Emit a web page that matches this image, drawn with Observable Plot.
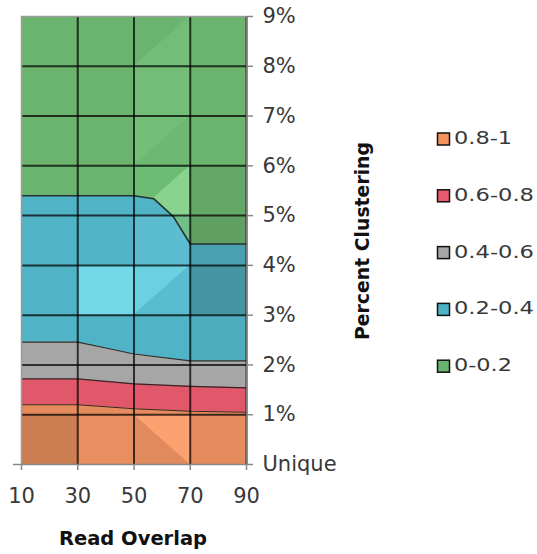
<!DOCTYPE html>
<html><head><meta charset="utf-8">
<script src="https://cdn.jsdelivr.net/npm/d3@7"></script>
<script src="https://cdn.jsdelivr.net/npm/@observablehq/plot@0.6"></script>
<style>html,body{margin:0;padding:0;background:#fff;} #chart{width:537px;height:554px;overflow:hidden;position:relative}</style>
</head><body><div id="chart"></div>
<script>
// ---- data ----
const readOverlap = [10, 30, 50, 70, 90];
const yTickValues = [0, 1, 2, 3, 4, 5, 6, 7, 8, 9];
const yTickLabels = ["Unique", "1%", "2%", "3%", "4%", "5%", "6%", "7%", "8%", "9%"];
const bandLabels = ["0.8-1", "0.6-0.8", "0.4-0.6", "0.2-0.4", "0-0.2"];
const bandColors = ["#e58b5e", "#e0586a", "#a6a6a6", "#51b3c6", "#6bb46f"];
const legendColors = ["#f4935d", "#e85b6f", "#a6a6a6", "#4cb2c6", "#69b46d"];

// upper boundary (cumulative %) of each band
const top08X = [10, 30, 50, 70, 90];
const top08 = [1.2, 1.2, 1.12, 1.07, 1.05];
const top06X = [10, 30, 50, 70, 90];
const top06 = [1.72, 1.72, 1.62, 1.57, 1.54];
const top04X = [10, 30, 40, 50, 70, 90];
const top04 = [2.46, 2.46, 2.34, 2.22, 2.08, 2.08];
const top02X = [10, 30, 50, 57, 64, 70, 90];
const top02 = [5.4, 5.4, 5.4, 5.34, 4.98, 4.43, 4.43];
const top00X = [10, 30, 50, 70, 90];
const top00 = [9, 9, 9, 9, 9];

// surface facet shading: column index, row, facet shape, fill, opacity
const greenFacets = [
  {col: 2, row: 8, shape: "lr", fill: "#74bd78", op: 1},
  {col: 2, row: 7, shape: "full", fill: "#74bd79", op: 1},
  {col: 2, row: 6, shape: "ul", fill: "#73bf78", op: 1},
  {col: 2, row: 6, shape: "lr", fill: "#6db972", op: 1},
  {col: 2, row: 5, shape: "ul", fill: "#6ebb73", op: 1},
  {col: 2, row: 5, shape: "lr", fill: "#88d48f", op: 1},
  {col: 3, row: 5, shape: "full", fill: "#64a968", op: 1}
];
const blueFacets = [
  {col: 1, row: 3, shape: "full", fill: "#73d8e7", op: 1},
  {col: 2, row: 3, shape: "ul", fill: "#6bd0e1", op: 1},
  {col: 2, row: 3, shape: "lr", fill: "#58bdd0", op: 1},
  {col: 3, row: 3, shape: "full", fill: "#4596a2", op: 1},
  {col: 3, row: 4, shape: "full", fill: "#000", op: 0.1},
  {col: 2, row: 4, shape: "full", fill: "#8ff0ff", op: 0.18},
  {col: 3, row: 2, shape: "full", fill: "#000", op: 0.04}
];
const orangeFacets = [
  {col: 0, row: 0, shape: "full", fill: "#cc7d52", op: 1},
  {col: 1, row: 0, shape: "full", fill: "#e98e60", op: 1},
  {col: 2, row: 0, shape: "ll", fill: "#e08a5e", op: 1},
  {col: 2, row: 0, shape: "ur", fill: "#fca270", op: 1}
];

// ---- helpers ----
const series = (xs, ys) => xs.map((x, i) => ({x, y: ys[i]}));
function facetPoints(f) {
  const x0 = readOverlap[f.col], x1 = readOverlap[f.col + 1];
  const y0 = f.row, y1 = f.row + 1;
  const s = {
    full: [[y0, y1], [y0, y1]],
    ul: [[y0, y1], [y1, y1]],
    lr: [[y0, y0], [y0, y1]],
    ur: [[y1, y1], [y0, y1]],
    ll: [[y0, y1], [y0, y0]]
  }[f.shape];
  return [{x: x0, lo: s[0][0], hi: s[0][1]}, {x: x1, lo: s[1][0], hi: s[1][1]}];
}
const facetMarks = (list) => list.map(f =>
  Plot.areaY(facetPoints(f), {x: "x", y1: "lo", y2: "hi", fill: f.fill, fillOpacity: f.op}));
const bandArea = (xs, ys, color) =>
  Plot.areaY(series(xs, ys), {x: "x", y1: 0, y2: "y", fill: color});
const boundary = (xs, ys, w) =>
  Plot.line(series(xs, ys), {x: "x", y: "y", stroke: "#1a1a1a", strokeOpacity: 0.85, strokeWidth: w});

const W = 537, H = 554;
const plot = Plot.plot({
  width: W, height: H,
  marginLeft: 21, marginRight: W - 246, marginTop: 16, marginBottom: H - 464,
  style: {fontFamily: "'DejaVu Sans', sans-serif", fontSize: "21px", color: "#404040", background: "white", overflow: "visible"},
  x: {domain: [10, 90], ticks: readOverlap, tickSize: 6, tickPadding: 18, label: null},
  y: {domain: [0, 9], axis: "right", ticks: yTickValues, tickSize: 6, tickPadding: 10,
      tickFormat: d => yTickLabels[yTickValues.indexOf(d)], label: null},
  marks: [
    bandArea(top00X, top00, bandColors[4]),
    ...facetMarks(greenFacets),
    bandArea(top02X, top02, bandColors[3]),
    ...facetMarks(blueFacets),
    bandArea(top04X, top04, bandColors[2]),
    bandArea(top06X, top06, bandColors[1]),
    bandArea(top08X, top08, bandColors[0]),
    ...facetMarks(orangeFacets),
    boundary(top08X, top08, 1.2),
    boundary(top06X, top06, 1.2),
    boundary(top04X, top04, 1.2),
    boundary(top02X, top02, 1.6),
    Plot.ruleX(readOverlap.slice(1), {stroke: "#000", strokeOpacity: 0.72, strokeWidth: 2}),
    Plot.ruleY(yTickValues.slice(1, 9), {stroke: "#000", strokeOpacity: 0.72, strokeWidth: 2}),
    Plot.ruleX([10], {stroke: "#9c9c9c", strokeWidth: 1.5}),
    Plot.ruleY([9], {stroke: "#9c9c9c", strokeWidth: 1.5}),
    Plot.ruleX([90], {stroke: "#888", strokeWidth: 1.5, dx: 0.5}),
    Plot.ruleY([0], {stroke: "#888", strokeWidth: 1.5, insetLeft: -8})
  ]
});

const svg = d3.select(plot);
svg.selectAll("g[aria-label='x-axis tick'], g[aria-label='y-axis tick']").attr("stroke", "#888").attr("stroke-width", 1.5);
svg.selectAll("g[aria-label='x-axis tick label'], g[aria-label='y-axis tick label']").attr("fill", "#383838");

const FONT = "'DejaVu Sans', sans-serif";
// axis titles
svg.append("text").text("Read Overlap")
  .attr("x", 133).attr("y", 539).attr("text-anchor", "middle").attr("dominant-baseline", "middle")
  .attr("font-family", FONT).attr("font-weight", "bold").attr("font-size", 19.5).attr("fill", "#111");
svg.append("text").text("Percent Clustering")
  .attr("transform", "translate(363,241) rotate(-90)")
  .attr("text-anchor", "middle").attr("dominant-baseline", "middle")
  .attr("textLength", 198).attr("lengthAdjust", "spacingAndGlyphs")
  .attr("font-family", FONT).attr("font-weight", "bold").attr("font-size", 20).attr("fill", "#111");

// legend
const lg = svg.append("g").attr("text-anchor", "start");
bandLabels.forEach((lab, i) => {
  const cy = 139 + i * 56.8;
  lg.append("rect").attr("x", 437.5).attr("y", cy - 6).attr("width", 12).attr("height", 12)
    .attr("fill", legendColors[i]).attr("stroke", "#111").attr("stroke-width", 1.5);
  lg.append("text").text(lab).attr("x", 454).attr("y", cy).attr("dominant-baseline", "middle")
    .attr("text-anchor", "start")
    .attr("font-family", FONT).attr("font-size", 18.5).attr("fill", "#383838")
    .attr("textLength", lab.length > 5 ? 80 : 58).attr("lengthAdjust", "spacingAndGlyphs");
});

document.getElementById("chart").appendChild(plot);
</script>
</body></html>
